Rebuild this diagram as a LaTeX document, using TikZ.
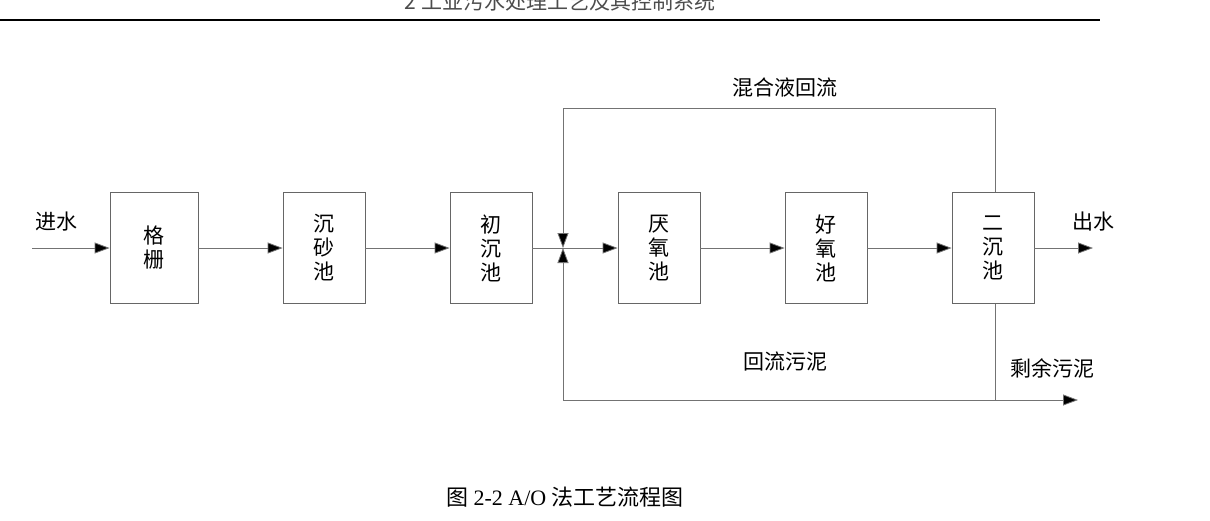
\documentclass[tikz,border=0pt]{standalone}
\usepackage{fontspec}
\setmainfont{Liberation Serif}
\newfontfamily\cjk{Noto Sans CJK SC}
\usetikzlibrary{arrows.meta}
\begin{document}
\begin{tikzpicture}[x=1pt,y=-1pt,
  unit/.style={draw=black!60,line width=0.8pt,minimum width=82pt,minimum height=111pt,inner sep=0pt,align=center,font=\cjk\fontsize{21}{24}\selectfont},
  lbl/.style={font=\cjk\fontsize{21}{24}\selectfont,inner sep=0pt},
  ln/.style={draw=black!55,line width=0.8pt},
  ar/.style={ln,-{Triangle[length=15pt,width=11pt]},arrows={[fill=black]}}]
\useasboundingbox (0,0) rectangle (1210,520);
\begin{scope}
\clip (0,0) rectangle (1210,520);
\node[lbl,text=black!70] (hdr) at (560,1) {2\ 工业污水处理工艺及其控制系统};
\end{scope}
\draw[line width=2pt] (0,20) -- (1100,20);
\node[unit,minimum width=88pt] (g) at (154,248) {格\\栅};
\node[unit] (c) at (324,248) {沉\\砂\\池};
\node[unit] (p) at (491,248) {初\\沉\\池};
\node[unit] (a) at (659,248) {厌\\氧\\池};
\node[unit] (o) at (826,248) {好\\氧\\池};
\node[unit] (s) at (993,248) {二\\沉\\池};
\coordinate (in) at (32,248);
\coordinate (out) at (1093,248);
\coordinate (j) at (563,248);
\coordinate (tl) at (563,108);
\coordinate (tr) at (995,108);
\coordinate (bl) at (563,400);
\coordinate (br) at (995,400);
\coordinate (be) at (1078,400);
\draw[ar] (in) -- (g);
\draw[ar] (g) -- (c);
\draw[ar] (c) -- (p);
\draw[ln] (p) -- (j);
\draw[ar] (j) -- (a);
\draw[ar] (a) -- (o);
\draw[ar] (o) -- (s);
\draw[ar] (s) -- (out);
\draw[ln] (s.north -| tr) -- (tr) -- (tl);
\draw[ar] (tl) -- (j);
\draw[ln] (s.south -| br) -- (br) -- (bl);
\draw[ar] (bl) -- (j);
\draw[ar] (br) -- (be);
\node[lbl] (l1) at (56,222) {进水};
\node[lbl] (l2) at (1093,222) {出水};
\node[lbl] (l3) at (785,88) {混合液回流};
\node[lbl] (l4) at (785,362) {回流污泥};
\node[lbl] (l5) at (1052,368) {剩余污泥};
\node[inner sep=0pt,font=\fontsize{22}{26}\selectfont] (cap) at (565,497) {{\cjk 图} 2-2 A/O {\cjk 法工艺流程图}};
\end{tikzpicture}
\end{document}
